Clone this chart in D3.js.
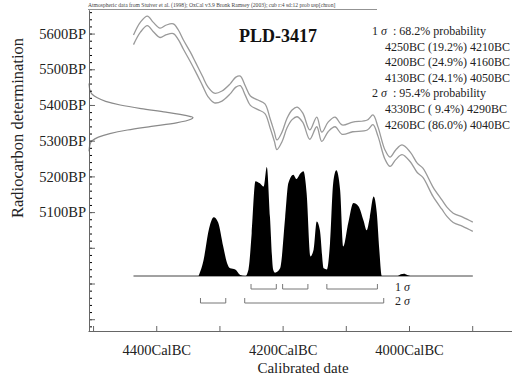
<!DOCTYPE html>
<html>
<head>
<meta charset="utf-8">
<script src="https://cdn.jsdelivr.net/npm/d3@7"></script>
<style>
  body { margin: 0; background: #fff; }
  svg { font-family: "Liberation Serif", "Times New Roman", serif; }
  text { white-space: pre; }
</style>
</head>
<body>
<div id="chart"></div>
<script>
// calibration curve (upper / lower 1 sigma envelope), BP vs cal BC
const curveBC = [4436,4425,4414,4405,4394,4384,4373,4365,4357,4346,4338,4327,4318,4308,4296,4283,4274,4267,4259,4251,
  4239,4228,4220,4213,4209,4201,4193,4185,4177,4168,4157,4146,4138,4128,4117,4106,4089,4066,4057,4049,
  4038,4030,4021,4011,3998,3987,3978,3962,3948,3940,3930,3915,3899];
const curveUpper = [5596,5632,5649,5632,5615,5624,5627,5610,5582,5548,5520,5481,5450,5433,5439,5459,5478,5481,5453,5425,
  5414,5403,5363,5324,5302,5324,5363,5386,5394,5377,5330,5366,5324,5352,5366,5344,5352,5358,5372,5338,
  5274,5254,5274,5288,5268,5237,5223,5170,5134,5114,5097,5086,5072];
const curveLower = [5569,5604,5622,5606,5589,5597,5600,5583,5556,5521,5494,5455,5423,5406,5411,5431,5450,5454,5427,5399,
  5387,5376,5337,5298,5275,5297,5336,5359,5367,5351,5304,5339,5298,5325,5339,5318,5325,5330,5345,5312,
  5248,5228,5247,5261,5241,5211,5197,5144,5108,5088,5071,5060,5046];

// radiocarbon measurement (relative density by BP)
const dateBP = [5460,5440,5430,5420,5410,5400,5390,5380,5370,5365,5360,5350,5340,5330,5320,5310,5300,5290,5270];
const dateProb = [0,0.01,0.03,0.08,0.16,0.3,0.5,0.74,0.94,1.0,0.98,0.84,0.6,0.37,0.2,0.09,0.03,0.01,0];

// calibrated distribution (relative probability by cal BC)
const calBC = [4333,4325,4317,4309,4302,4294,4288,4283,4275,4267,4259,4254,4249,4243,4236,4230,4225,4220,4215,4212,
  4204,4196,4191,4183,4178,4172,4167,4162,4156,4151,4146,4141,4135,4130,4125,4120,4115,4109,4104,4096,
  4088,4080,4072,4067,4062,4056,4051,4047,4043,4018,4013,4008,4003,3998];
const calProb = [0,0.15,0.42,0.54,0.49,0.27,0.12,0.07,0.06,0.01,0,0.06,0.39,0.87,0.85,0.82,1.0,0.54,0.06,0.03,
  0.07,0.54,0.85,0.93,0.89,0.94,0.96,0.76,0.18,0.24,0.5,0.42,0.07,0.06,0.3,0.85,0.97,0.79,0.27,0.49,
  0.67,0.64,0.51,0.42,0.54,0.73,0.58,0.24,0,0,0.015,0.02,0.01,0];

// ranges: [from, to, percent]
const sigma1Ranges = [[4250,4210,19.2],[4200,4160,24.9],[4130,4050,24.1]];
const sigma2Ranges = [[4330,4290,9.4],[4260,4040,86.0]];

const xTicks = [4500,4400,4300,4200,4100,4000,3900];
const xTickLabels = [4400,4200,4000];
const yTicks = [4800,4900,5000,5100,5200,5300,5400,5500,5600];
const yTickLabels = [5100,5200,5300,5400,5500,5600];

const sampleName = "PLD-3417";
const header = "Atmospheric data from Stuiver et al. (1998); OxCal v3.9 Bronk Ramsey (2003); cub r:4 sd:12 prob usp[chron]";

const width = 512, height = 380;
const svg = d3.select("#chart").append("svg")
    .attr("width", width)
    .attr("height", height);

const x = d3.scaleLinear().domain([4508, 3837]).range([88, 512]);
const y = d3.scaleLinear().domain([4767, 5666]).range([331, 10]);
const pY = d3.scaleLinear().domain([0, 1]).range([276, 167]);
const gX = d3.scaleLinear().domain([0, 1]).range([89, 193]);

// header
svg.append("text")
    .attr("x", 88).attr("y", 7)
    .attr("font-size", "5.6px")
    .attr("fill", "#444")
    .text(header);
svg.append("line")
    .attr("x1", 88).attr("x2", 377)
    .attr("y1", 9.5).attr("y2", 9.5)
    .attr("stroke", "#777").attr("stroke-width", 0.8);

// calibration curve
const curveLine = (vals) => d3.line()
    .x((d, i) => x(curveBC[i]))
    .y(d => y(d))
    .curve(d3.curveCatmullRom)(vals);
[curveUpper, curveLower].forEach(vals => {
    svg.append("path")
        .attr("d", curveLine(vals))
        .attr("fill", "none")
        .attr("stroke", "#9a9a9a")
        .attr("stroke-width", 1.3);
});

// radiocarbon date on y axis
svg.append("path")
    .attr("d", d3.line()
        .x((d, i) => gX(dateProb[i]))
        .y(d => y(d))
        .curve(d3.curveMonotoneY)(dateBP))
    .attr("fill", "none")
    .attr("stroke", "#8a8a8a")
    .attr("stroke-width", 1.2);

// calibrated distribution
svg.append("line")
    .attr("x1", x(curveBC[0])).attr("x2", x(curveBC[curveBC.length - 1]))
    .attr("y1", pY(0)).attr("y2", pY(0))
    .attr("stroke", "#444").attr("stroke-width", 1);
svg.append("path")
    .attr("d", d3.area()
        .x((d, i) => x(d))
        .y0(pY(0))
        .y1((d, i) => pY(calProb[i]))
        .curve(d3.curveMonotoneX)(calBC))
    .attr("fill", "#000");

// range brackets
const brackets = (ranges, yy, label) => {
    ranges.forEach(r => {
        svg.append("path")
            .attr("d", `M${x(r[0])},${yy - 5}V${yy}H${x(r[1])}V${yy - 5}`)
            .attr("fill", "none")
            .attr("stroke", "#777")
            .attr("stroke-width", 1);
    });
    const t = svg.append("text")
        .attr("x", 395).attr("y", yy + 2)
        .attr("font-size", "12px")
        .attr("fill", "#222");
    t.append("tspan").text(label + " ");
    t.append("tspan").attr("font-style", "italic").text("\u03c3");
};
brackets(sigma1Ranges, 289, "1");
brackets(sigma2Ranges, 303, "2");

// axes
const yAxis = d3.axisLeft(y)
    .tickValues(yTicks)
    .tickSizeInner(-6).tickSizeOuter(0)
    .tickPadding(3)
    .tickFormat(d => yTickLabels.includes(d) ? d + "BP" : "");
const yMinor = d3.axisLeft(y)
    .tickValues(d3.range(4780, 5666, 20))
    .tickSizeInner(-3).tickSizeOuter(0)
    .tickFormat("");
svg.append("g").attr("transform", "translate(89,0)").call(yMinor);
const gy = svg.append("g").attr("transform", "translate(89,0)").call(yAxis);

const xAxis = d3.axisBottom(x)
    .tickValues(xTicks)
    .tickSizeInner(-5).tickSizeOuter(0)
    .tickPadding(14)
    .tickFormat(d => xTickLabels.includes(d) ? d + "CalBC" : "");
const gx = svg.append("g").attr("transform", "translate(0,331)").call(xAxis);

[gx, gy].forEach(g => {
    g.attr("font-family", null).attr("font-size", null);
    g.selectAll("path, line").attr("stroke", "#666");
    g.selectAll("text").attr("font-size", "14.5px").attr("fill", "#222");
});
svg.selectAll(".domain").attr("stroke", "#666");

// axis titles
svg.append("text")
    .attr("transform", "translate(23,128) rotate(-90)")
    .attr("text-anchor", "middle")
    .attr("font-size", "16.5px")
    .attr("fill", "#222")
    .text("Radiocarbon determination");
svg.append("text")
    .attr("x", 303).attr("y", 373)
    .attr("text-anchor", "middle")
    .attr("font-size", "15px")
    .attr("fill", "#222")
    .text("Calibrated date");

// title
svg.append("text")
    .attr("x", 278).attr("y", 42)
    .attr("text-anchor", "middle")
    .attr("font-size", "18px")
    .attr("font-weight", "bold")
    .attr("fill", "#111")
    .text(sampleName);

// probability legend
const fmt = (r) => `${r[0]}BC (${r[2] < 10 ? " " : ""}${r[2].toFixed(1)}%) ${r[1]}BC`;
const legendLines = [];
legendLines.push({ head: "1", text: " : 68.2% probability" });
sigma1Ranges.forEach(r => legendLines.push({ text: fmt(r) }));
legendLines.push({ head: "2", text: " : 95.4% probability" });
sigma2Ranges.forEach(r => legendLines.push({ text: fmt(r) }));

legendLines.forEach((l, i) => {
    const t = svg.append("text")
        .attr("y", 35 + i * 15.6)
        .attr("font-size", "12px")
        .attr("fill", "#222");
    if (l.head) {
        t.attr("x", 372);
        t.append("tspan").text(l.head + " ");
        t.append("tspan").attr("font-style", "italic").text("\u03c3");
        t.append("tspan").text(" " + l.text);
    } else {
        t.attr("x", 385).text(l.text);
    }
});
</script>
</body>
</html>
